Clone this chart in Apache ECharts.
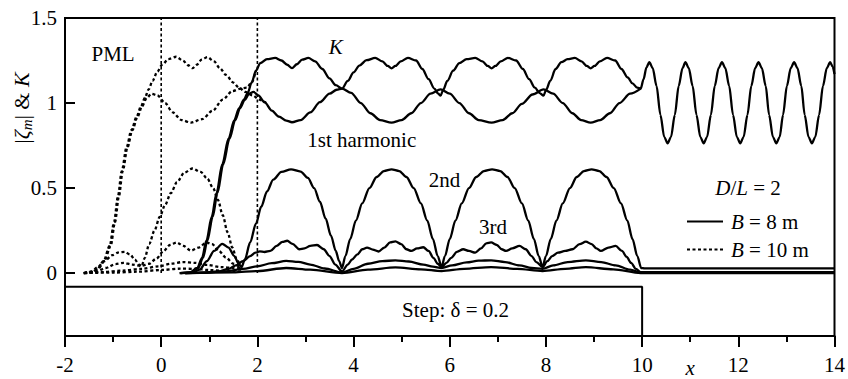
<!DOCTYPE html>
<html>
<head>
<meta charset="utf-8">
<script src="https://cdn.jsdelivr.net/npm/echarts@6.0.0/dist/echarts.min.js"></script>
<style>
html, body { margin: 0; padding: 0; background: #fff; }
#chart { width: 848px; height: 379px; }
</style>
</head>
<body>
<div id="chart"></div>
<script>
// tick values of the y axis
const yTicks = [0, 0.5, 1, 1.5];

// PML boundaries and the step
const pmlX = [0, 2];
const stepX = [-2, 10, 10];
const stepY = [-0.08, -0.08, -0.37];

// B = 8 m (solid)
const k8 = [[0.38,0],[0.6,0.004],[0.75,0.03],[0.85,0.09],[0.94,0.19],[1.05,0.33],[1.15,0.47],[1.27,0.64],[1.4,0.79],[1.52,0.9],[1.62,0.97],[1.72,1.02],[1.8,1.06],[1.88,1.12],[1.97,1.19],[2.06,1.235],[2.2,1.258],[2.37,1.265],[2.5,1.25],[2.62,1.225],[2.72,1.205],[2.82,1.228],[2.93,1.255],[3.06,1.265],[3.2,1.245],[3.35,1.2],[3.5,1.145],[3.63,1.105],[3.76,1.085],
  [3.88,1.13],[4.0,1.18],[4.12,1.22],[4.27,1.252],[4.45,1.265],[4.6,1.245],[4.71,1.218],[4.79,1.204],[4.87,1.218],[4.98,1.245],[5.13,1.265],[5.3,1.25],[5.43,1.2],[5.56,1.14],[5.68,1.085],[5.76,1.055],[5.81,1.043],
  [5.86,1.075],[5.95,1.13],[6.07,1.19],[6.2,1.235],[6.35,1.258],[6.53,1.265],[6.68,1.245],[6.79,1.218],[6.87,1.204],[6.95,1.218],[7.06,1.245],[7.21,1.265],[7.38,1.25],[7.52,1.2],[7.65,1.14],[7.77,1.09],[7.87,1.058],[7.95,1.043],
  [8.0,1.075],[8.09,1.13],[8.2,1.2],[8.32,1.24],[8.45,1.258],[8.6,1.265],[8.74,1.245],[8.85,1.218],[8.93,1.204],[9.01,1.218],[9.12,1.245],[9.27,1.265],[9.44,1.25],[9.57,1.2],[9.7,1.15],[9.8,1.115],[9.9,1.09],[9.97,1.085],
  [10.03,1.14],[10.09,1.21],[10.15,1.24],[10.22,1.205],[10.3,1.1],[10.38,0.93],[10.46,0.8],[10.53,0.763],[10.6,0.8],[10.68,0.93],[10.76,1.1],[10.84,1.205],[10.9,1.24],[10.97,1.205],[11.05,1.1],[11.13,0.93],[11.21,0.8],[11.28,0.763],[11.35,0.8],[11.43,0.93],[11.51,1.1],[11.59,1.205],[11.66,1.24],[11.73,1.205],[11.81,1.1],[11.89,0.93],[11.97,0.8],[12.04,0.763],[12.11,0.8],[12.19,0.93],[12.27,1.1],[12.35,1.205],[12.42,1.24],[12.49,1.205],[12.57,1.1],[12.64,0.93],[12.72,0.8],[12.79,0.763],[12.86,0.8],[12.93,0.93],[13.01,1.1],[13.09,1.205],[13.16,1.24],[13.23,1.205],[13.31,1.1],[13.38,0.93],[13.46,0.8],[13.53,0.763],[13.6,0.8],[13.68,0.93],[13.76,1.1],[13.84,1.205],[13.91,1.24],[13.96,1.215],[14,1.17]];

const h1_8 = [[0.4,0],[0.62,0.004],[0.77,0.03],[0.87,0.09],[0.96,0.19],[1.07,0.33],[1.17,0.47],[1.29,0.64],[1.42,0.79],[1.54,0.9],[1.64,0.97],[1.74,1.02],[1.83,1.055],[1.92,1.065],[2.02,1.045],[2.15,1.005],[2.3,0.955],[2.45,0.92],[2.6,0.897],[2.72,0.887],[2.9,0.9],[3.1,0.945],[3.3,1.005],[3.5,1.055],[3.65,1.078],[3.76,1.085],
  [3.95,1.06],[4.15,1.0],[4.35,0.94],[4.55,0.9],[4.79,0.885],[5.0,0.9],[5.2,0.94],[5.4,1.0],[5.6,1.055],[5.81,1.08],
  [6.0,1.055],[6.2,1.0],[6.4,0.94],[6.6,0.9],[6.87,0.885],[7.1,0.9],[7.3,0.94],[7.5,0.995],[7.72,1.05],[7.95,1.08],
  [8.15,1.055],[8.35,1.0],[8.55,0.94],[8.73,0.9],[8.93,0.885],[9.13,0.9],[9.33,0.94],[9.53,1.0],[9.75,1.055],[9.97,1.085]];

const h2_8 = [[0.4,0],[0.65,0.003],[0.8,0.02],[0.95,0.07],[1.1,0.13],[1.27,0.172],[1.4,0.15],[1.52,0.1],[1.61,0.055],[1.67,0.035],[1.74,0.08],[1.85,0.18],[1.97,0.29],[2.08,0.39],[2.2,0.48],[2.33,0.55],[2.5,0.595],[2.7,0.61],[2.9,0.597],[3.05,0.56],[3.18,0.5],[3.3,0.42],[3.42,0.32],[3.53,0.22],[3.63,0.13],[3.7,0.07],[3.76,0.03],
  [3.83,0.1],[3.93,0.2],[4.05,0.31],[4.18,0.41],[4.33,0.5],[4.48,0.565],[4.63,0.6],[4.79,0.61],[4.95,0.6],[5.1,0.565],[5.25,0.5],[5.4,0.41],[5.53,0.31],[5.65,0.2],[5.75,0.1],[5.83,0.035],
  [5.9,0.1],[6.0,0.2],[6.12,0.31],[6.25,0.41],[6.4,0.5],[6.55,0.565],[6.71,0.6],[6.88,0.61],[7.05,0.6],[7.2,0.565],[7.35,0.5],[7.5,0.41],[7.63,0.31],[7.75,0.2],[7.85,0.1],[7.93,0.035],
  [8.0,0.1],[8.1,0.2],[8.22,0.31],[8.35,0.41],[8.5,0.5],[8.64,0.565],[8.79,0.6],[8.95,0.61],[9.11,0.6],[9.26,0.565],[9.41,0.5],[9.56,0.41],[9.69,0.31],[9.8,0.2],[9.9,0.1],[9.98,0.03],
  [10.05,0.028],[14,0.028]];

const h3_8 = [[0.5,0],[0.9,0.003],[1.2,0.01],[1.4,0.025],[1.55,0.045],[1.7,0.07],[1.85,0.1],[1.96,0.12],[2.05,0.128],[2.15,0.124],[2.27,0.13],[2.4,0.16],[2.52,0.183],[2.62,0.19],[2.73,0.172],[2.87,0.14],[2.98,0.145],[3.1,0.16],[3.24,0.165],[3.38,0.14],[3.5,0.1],[3.62,0.05],[3.76,0.01],
  [3.88,0.05],[3.97,0.08],[4.08,0.11],[4.18,0.14],[4.28,0.15],[4.4,0.138],[4.52,0.127],[4.64,0.15],[4.76,0.18],[4.87,0.186],[4.99,0.17],[5.1,0.14],[5.2,0.13],[5.32,0.145],[5.45,0.152],[5.56,0.13],[5.66,0.09],[5.75,0.055],[5.83,0.035],
  [5.93,0.06],[6.03,0.09],[6.15,0.125],[6.28,0.14],[6.4,0.13],[6.53,0.12],[6.65,0.145],[6.76,0.175],[6.86,0.18],[6.98,0.165],[7.08,0.14],[7.17,0.13],[7.3,0.145],[7.45,0.16],[7.58,0.14],[7.7,0.1],[7.8,0.065],[7.93,0.035],
  [8.03,0.07],[8.13,0.1],[8.25,0.12],[8.4,0.13],[8.55,0.14],[8.7,0.17],[8.83,0.185],[8.95,0.17],[9.05,0.145],[9.14,0.13],[9.3,0.15],[9.45,0.16],[9.58,0.13],[9.68,0.095],[9.77,0.06],[9.87,0.025],[9.97,0.005],
  [10.05,0.006],[14,0.006]];

const h4_8 = [[0.5,0],[1.0,0.004],[1.4,0.012],[1.7,0.025],[2.0,0.04],[2.3,0.058],[2.6,0.072],[2.85,0.066],[3.1,0.05],[3.4,0.027],[3.76,0.003],[4.0,0.025],[4.3,0.055],[4.6,0.07],[4.87,0.075],[5.15,0.068],[5.45,0.05],[5.65,0.038],[5.83,0.03],[6.05,0.045],[6.35,0.063],[6.6,0.073],[6.86,0.075],[7.15,0.065],[7.45,0.045],[7.7,0.03],[7.93,0.025],[8.15,0.045],[8.45,0.065],[8.83,0.075],[9.15,0.065],[9.45,0.045],[9.75,0.02],[9.97,0.003],[14,0.003]];

const h5_8 = [[0.5,0],[1.5,0.004],[2.0,0.012],[2.6,0.03],[3.1,0.02],[3.76,0.0],[4.3,0.02],[4.87,0.033],[5.4,0.022],[5.83,0.012],[6.3,0.025],[6.86,0.035],[7.4,0.025],[7.93,0.012],[8.4,0.025],[8.83,0.035],[9.4,0.022],[9.97,0.0],[14,0.0]];

// B = 10 m (dashed)
const k10a = [[-1.62,0],[-1.45,0.005],[-1.34,0.02],[-1.2,0.07],[-1.07,0.16],[-0.98,0.3],[-0.9,0.45],[-0.82,0.6],[-0.72,0.74],[-0.62,0.84],[-0.51,0.92],[-0.42,0.98],[-0.34,1.03],[-0.26,1.08],[-0.18,1.13],[-0.08,1.185],[0.02,1.225],[0.15,1.258],[0.31,1.272],[0.45,1.25],[0.56,1.222],[0.65,1.205],[0.74,1.225],[0.84,1.255],[0.96,1.27],[1.1,1.245],[1.22,1.205],[1.35,1.165],[1.5,1.12],[1.62,1.09],[1.75,1.065],[1.9,1.045],[2.04,1.02],[2.18,1.0]];

const k10b = [[-1.6,0],[-1.43,0.005],[-1.32,0.02],[-1.18,0.07],[-1.05,0.16],[-0.96,0.3],[-0.88,0.45],[-0.8,0.6],[-0.7,0.74],[-0.6,0.84],[-0.49,0.92],[-0.4,0.98],[-0.3,1.03],[-0.2,1.055],[-0.08,1.045],[0.08,1.0],[0.24,0.945],[0.42,0.9],[0.62,0.885],[0.85,0.905],[1.07,0.955],[1.28,1.02],[1.48,1.07],[1.65,1.085],[1.78,1.09],[1.88,1.12],[1.97,1.19]];

const h2_10 = [[-1.6,0],[-1.45,0.01],[-1.32,0.035],[-1.18,0.07],[-1.02,0.105],[-0.88,0.122],[-0.76,0.125],[-0.65,0.11],[-0.55,0.08],[-0.46,0.05],[-0.41,0.04],[-0.34,0.09],[-0.25,0.17],[-0.14,0.25],[-0.03,0.33],[0.08,0.4],[0.2,0.47],[0.33,0.535],[0.48,0.59],[0.65,0.615],[0.82,0.595],[0.96,0.555],[1.08,0.5],[1.18,0.43],[1.28,0.34],[1.38,0.24],[1.48,0.15],[1.57,0.08],[1.66,0.035]];

const h3_10 = [[-1.6,0],[-1.35,0.008],[-1.15,0.03],[-0.95,0.053],[-0.78,0.06],[-0.6,0.05],[-0.42,0.042],[-0.25,0.055],[-0.1,0.085],[0.05,0.13],[0.18,0.165],[0.32,0.18],[0.46,0.16],[0.62,0.132],[0.78,0.15],[0.94,0.18],[1.06,0.17],[1.2,0.13],[1.35,0.09],[1.5,0.055],[1.64,0.035]];

const h4_10 = [[-1.6,0],[-1.2,0.006],[-0.8,0.015],[-0.4,0.025],[-0.05,0.04],[0.2,0.055],[0.45,0.065],[0.7,0.06],[0.95,0.048],[1.25,0.035],[1.5,0.03],[1.7,0.03]];

const h5_10 = [[-1.6,0],[-1.0,0.003],[-0.5,0.008],[0,0.018],[0.4,0.026],[0.7,0.025],[1.0,0.018],[1.4,0.01],[1.7,0.01]];

const FONT = 'Liberation Serif';

const chart = echarts.init(document.getElementById('chart'), null, {renderer: 'svg'});

function curve(data, dashed) {
    return {
        name: dashed ? 'B = 10 m' : 'B = 8 m',
        type: 'line',
        data: data,
        symbol: 'none',
        smooth: 0.3,
        smoothMonotone: 'x',
        silent: true,
        z: dashed ? 2 : 3,
        itemStyle: {color: '#000'},
        lineStyle: {
            color: '#000',
            width: 2.3,
            type: dashed ? [3, 2.5] : 'solid'
        }
    }
}

function plain(data, dashed, width) {
    return {
        type: 'line',
        data: data,
        symbol: 'none',
        silent: true,
        lineStyle: {color: '#000', width: width, type: dashed ? [3, 2.5] : 'solid'}
    }
}

let series = [
    curve(k10a, true), curve(k10b, true), curve(h2_10, true), curve(h3_10, true), curve(h4_10, true), curve(h5_10, true),
    curve(k8, false), curve(h1_8, false), curve(h2_8, false), curve(h3_8, false), curve(h4_8, false), curve(h5_8, false),
    plain(stepX.map((x, i) => [x, stepY[i]]), false, 2)
];
pmlX.forEach(x => series.push(plain([[x, 0], [x, 1.5]], true, 1.6)));

let option = {
    animation: false,
    grid: {
        left: 65, right: 10, top: 18, bottom: 43,
        show: true, borderColor: '#000', borderWidth: 2
    },
    xAxis: {
        type: 'value', min: -2, max: 14, interval: 2,
        axisLine: {onZero: false, lineStyle: {color: '#000', width: 2}},
        axisTick: {length: 11, lineStyle: {color: '#000', width: 2}},
        minorTick: {show: true, splitNumber: 2, length: 6, lineStyle: {color: '#000', width: 2}},
        splitLine: {show: false},
        axisLabel: {color: '#000', fontFamily: FONT, fontSize: 21, margin: 18}
    },
    yAxis: {
        type: 'value', min: -0.37, max: 1.5,
        axisLine: {show: true, onZero: false, lineStyle: {color: '#000', width: 2}},
        axisTick: {show: true, inside: true, length: 10, customValues: yTicks, lineStyle: {color: '#000', width: 2}},
        splitLine: {show: false},
        axisLabel: {color: '#000', fontFamily: FONT, fontSize: 21, margin: 8, customValues: yTicks,
            formatter: v => String(v)}
    },
    legend: {
        data: ['B = 8 m', 'B = 10 m'],
        orient: 'vertical',
        left: 681, top: 206,
        itemWidth: 36, itemHeight: 12, itemGap: 7,
        selectedMode: false,
        itemStyle: {opacity: 0},
        formatter: name => name === 'B = 8 m' ? '{i|B} = 8 m' : '{i|B} = 10 m',
        textStyle: {
            color: '#000', fontFamily: FONT, fontSize: 21, lineHeight: 20, padding: [0, 0, 0, 3],
            rich: {i: {fontStyle: 'italic', fontFamily: FONT, fontSize: 21, color: '#000'}}
        }
    },
    series: series
};
chart.setOption(option);

// text notes placed in data coordinates
const notes = [
    {text: 'PML', at: [-1.0, 1.29]},
    {text: '{i|K}', at: [3.63, 1.33]},
    {text: '1st harmonic', at: [4.17, 0.78]},
    {text: '2nd', at: [5.89, 0.545]},
    {text: '3rd', at: [6.9, 0.27]},
    {text: 'Step: δ = 0.2', at: [6.12, -0.22]}
];
const rich = {
    i: {fontStyle: 'italic', fontFamily: FONT, fontSize: 21, fill: '#000'},
    z: {fontStyle: 'italic', fontFamily: FONT, fontSize: 22, fill: '#000', lineHeight: 26, verticalAlign: 'middle'},
    a: {fontFamily: FONT, fontSize: 22, fill: '#000', lineHeight: 26, verticalAlign: 'middle'},
    s: {fontStyle: 'italic', fontFamily: FONT, fontSize: 15, fill: '#000', lineHeight: 15, verticalAlign: 'bottom'}
};
let graphics = notes.map(n => {
    const p = chart.convertToPixel({gridIndex: 0}, n.at);
    return {
        type: 'text', x: p[0], y: p[1], silent: true,
        style: {text: n.text, fontFamily: FONT, fontSize: 21, fill: '#000', align: 'center', verticalAlign: 'middle', rich: rich}
    };
});
const dl = chart.convertToPixel({gridIndex: 0}, [11.52, 0.5]);
graphics.push({
    type: 'text', x: dl[0], y: dl[1], silent: true,
    style: {text: '{i|D}/{i|L} = 2', fontFamily: FONT, fontSize: 21, fill: '#000', align: 'left', verticalAlign: 'middle', rich: rich}
});
const xn = chart.convertToPixel({gridIndex: 0}, [11.0, 0]);
graphics.push({
    type: 'text', x: xn[0], y: 378, silent: true,
    style: {text: 'x', fontFamily: FONT, fontSize: 21, fontStyle: 'italic', fill: '#000', align: 'center', verticalAlign: 'bottom'}
});
graphics.push({
    type: 'text', x: 21, y: 108, rotation: Math.PI / 2, silent: true,
    style: {text: '{a||}{z|ζ}{s|m}{a|| & }{z|K}', fontFamily: FONT, fontSize: 22, fill: '#000', align: 'center', verticalAlign: 'middle', rich: rich}
});
chart.setOption({graphic: graphics});

window.addEventListener('resize', () => {
    chart.resize()
})
</script>
</body>
</html>
